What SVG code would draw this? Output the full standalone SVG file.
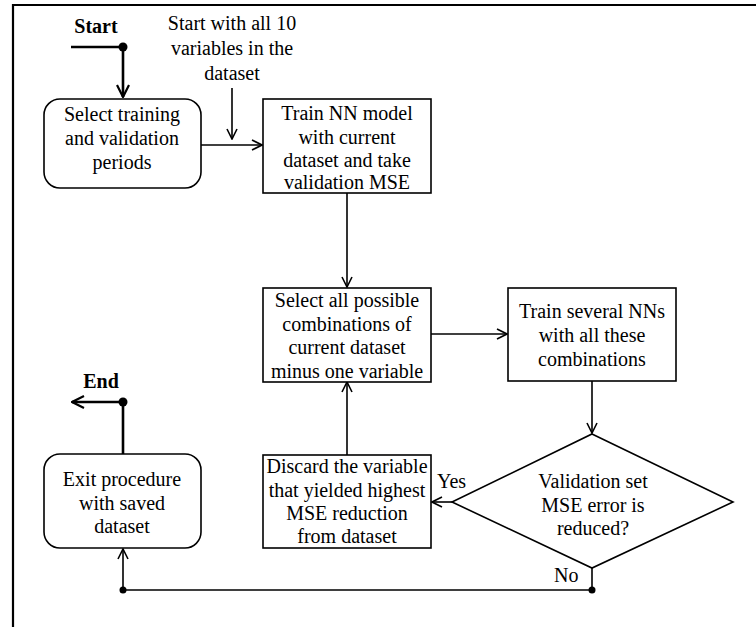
<svg xmlns="http://www.w3.org/2000/svg" width="756" height="627" viewBox="0 0 756 627">
  <defs>
    <marker id="arrow" viewBox="0 0 12 12" refX="11" refY="6" markerWidth="12" markerHeight="12" markerUnits="userSpaceOnUse" orient="auto">
      <path d="M1,1 L11,6 L1,11" fill="none" stroke="#000" stroke-width="1.6"/>
    </marker>
    <marker id="arrowBold" viewBox="0 0 14 14" refX="13" refY="7" markerWidth="14" markerHeight="14" markerUnits="userSpaceOnUse" orient="auto">
      <path d="M1,1 L13,7 L1,13" fill="none" stroke="#000" stroke-width="2.2"/>
    </marker>
  </defs>
  <style>
    text { font-size: 20px; fill: #000; text-anchor: middle; }
    .bold { font-weight: bold; }
    .box { fill: #fff; stroke: #000; stroke-width: 1.6; }
    .frame { fill: none; stroke: #000; stroke-width: 2.2; }
    .line { fill: none; stroke: #000; stroke-width: 1.6; }
    .thick { fill: none; stroke: #000; stroke-width: 2.6; }
    .dot { fill: #000; }
    .label { text-anchor: start; }
  </style>

  <rect width="756" height="627" fill="#fff"/>

  <!-- frame -->
  <path class="frame" d="M13,627 L13,5 L756,5"/>

  <g font-family="'Liberation Serif', 'DejaVu Serif', serif">
  <!-- connectors -->
  <g id="connectors">
    <path class="thick" d="M71,47 L123,47 L123,97" marker-end="url(#arrowBold)"/>
    <circle class="dot" cx="123" cy="47" r="4.5"/>
    <path class="line" d="M232,88 L232,139" marker-end="url(#arrow)"/>
    <path class="line" d="M201,145 L262,145" marker-end="url(#arrow)"/>
    <path class="line" d="M347,193 L347,287" marker-end="url(#arrow)"/>
    <path class="line" d="M431,334 L507,334" marker-end="url(#arrow)"/>
    <path class="line" d="M592,381 L592,433" marker-end="url(#arrow)"/>
    <path class="line" d="M452,502 L432,502" marker-end="url(#arrow)"/>
    <path class="line" d="M347,455 L347,382" marker-end="url(#arrow)"/>
    <path class="line" d="M592,568 L592,590 L123,590 L123,549" marker-end="url(#arrow)"/>
    <circle class="dot" cx="592" cy="590" r="3.5"/>
    <circle class="dot" cx="123" cy="590" r="3.5"/>
    <path class="thick" d="M123,454 L123,402 L72,402" marker-end="url(#arrowBold)"/>
    <circle class="dot" cx="123" cy="402" r="4.5"/>
    <text class="label" x="437" y="488">Yes</text>
    <text class="label" x="554" y="582">No</text>
  </g>

  <g id="start">
    <text class="bold" x="96" y="33">Start</text>
  </g>

  <g id="note">
    <text x="232" y="30">Start with all 10</text>
    <text x="232" y="55">variables in the</text>
    <text x="232" y="80">dataset</text>
  </g>

  <g id="select-periods">
    <rect class="box" x="44" y="99" width="157" height="89" rx="16"/>
    <text x="122" y="121">Select training</text>
    <text x="122" y="145">and validation</text>
    <text x="122" y="169">periods</text>
  </g>

  <g id="train-model">
    <rect class="box" x="263" y="99" width="168" height="94"/>
    <text x="347" y="120">Train NN model</text>
    <text x="347" y="144">with current</text>
    <text x="347" y="167">dataset and take</text>
    <text x="347" y="189">validation MSE</text>
  </g>

  <g id="select-combinations">
    <rect class="box" x="263" y="288" width="168" height="94"/>
    <text x="347" y="307">Select all possible</text>
    <text x="347" y="331">combinations of</text>
    <text x="347" y="354">current dataset</text>
    <text x="347" y="378">minus one variable</text>
  </g>

  <g id="train-several">
    <rect class="box" x="508" y="288" width="168" height="93"/>
    <text x="592" y="318">Train several NNs</text>
    <text x="592" y="342">with all these</text>
    <text x="592" y="366">combinations</text>
  </g>

  <g id="decision">
    <polygon class="box" points="592,434 733,502 592,568 452,502"/>
    <text x="593" y="488">Validation set</text>
    <text x="593" y="512">MSE error is</text>
    <text x="593" y="535">reduced?</text>
  </g>

  <g id="discard">
    <rect class="box" x="263" y="455" width="168" height="93"/>
    <text x="347" y="473">Discard the variable</text>
    <text x="347" y="497">that yielded highest</text>
    <text x="347" y="520">MSE reduction</text>
    <text x="347" y="543">from dataset</text>
  </g>

  <g id="exit">
    <rect class="box" x="44" y="454" width="157" height="94" rx="16"/>
    <text x="122" y="486">Exit procedure</text>
    <text x="122" y="510">with saved</text>
    <text x="122" y="533">dataset</text>
  </g>

  <g id="end">
    <text class="bold" x="101" y="388">End</text>
  </g>
  </g>
</svg>
